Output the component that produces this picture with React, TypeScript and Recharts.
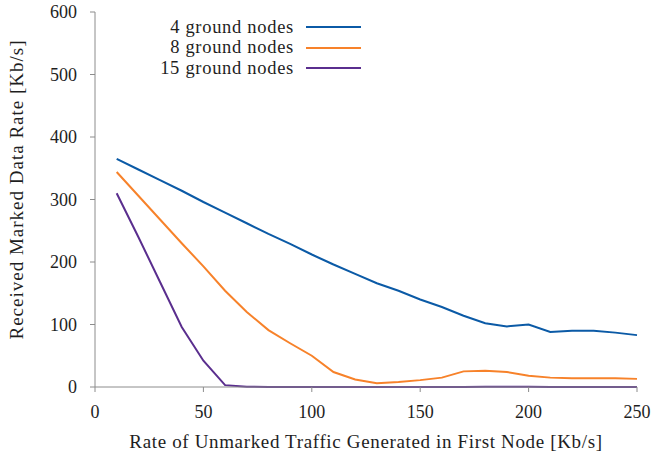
import React from 'react';
import { LineChart, Line, XAxis, YAxis, Label } from 'recharts';

const rates = [10, 20, 30, 40, 50, 60, 70, 80, 90, 100, 110, 120, 130, 140, 150, 160, 170, 180, 190, 200, 210, 220, 230, 240, 250];
const nodes4 = [365, 348, 331, 314, 296, 279, 262, 245, 229, 212, 196, 181, 166, 154, 140, 128, 114, 102, 97, 100, 88, 90, 90, 87, 83];
const nodes8 = [344, 306, 268, 230, 193, 154, 120, 91, 70, 50, 24, 12, 6, 8, 11, 15, 25, 26, 24, 18, 15, 14, 14, 14, 13];
const nodes15 = [310, 240, 168, 96, 42, 3, 0.5, 0, 0, 0, 0, 0, 0, 0, 0, 0, 0, 0.5, 0.5, 0.5, 0, 0, 0, 0, 0];
const xTicks = [0, 50, 100, 150, 200, 250];
const yTicks = [0, 100, 200, 300, 400, 500, 600];

const SERIES = [
  { key: 'n4', name: '4 ground nodes', color: '#0b5aa6' },
  { key: 'n8', name: '8 ground nodes', color: '#f7822a' },
  { key: 'n15', name: '15 ground nodes', color: '#5a2e8e' },
];

const data = rates.map((r, i) => ({ rate: r, n4: nodes4[i], n8: nodes8[i], n15: nodes15[i] }));

const FONT = '"Liberation Serif", serif';
const AXIS = '#8c8c8c';
const INK = '#1e1e1e';

// legend drawn as an overlay in the upper-left part of the plot
const LegendBox = () => (
  <div style={{ position: 'absolute', left: 60, top: 17, width: 301, fontFamily: FONT, fontSize: 18.5, letterSpacing: 0.7, color: INK }}>
    {SERIES.map((s) => (
      <div key={s.key} style={{ display: 'flex', alignItems: 'center', justifyContent: 'flex-end', height: 20.5 }}>
        <span>{s.name}</span>
        <span style={{ display: 'inline-block', width: 55, height: 2, background: s.color, marginLeft: 12 }} />
      </div>
    ))}
  </div>
);

export default function App() {
  return (
    <div style={{ position: 'absolute', left: 0, top: 0, width: 651, height: 455, background: '#fff' }}>
      <LineChart width={651} height={455} data={data} margin={{ top: 12, right: 14, left: 35, bottom: 38 }}>
        <XAxis
          dataKey="rate"
          type="number"
          domain={[0, 250]}
          ticks={xTicks}
          stroke={AXIS}
          tickSize={5}
          tickMargin={13}
          height={30}
          tick={{ fill: INK, fontSize: 18, fontFamily: FONT }}
        >
          <Label
            value="Rate of Unmarked Traffic Generated in First Node [Kb/s]"
            position="bottom"
            offset={18}
            style={{ fill: INK, fontSize: 19, letterSpacing: 0.65, fontFamily: FONT }}
          />
        </XAxis>
        <YAxis
          type="number"
          domain={[0, 600]}
          ticks={yTicks}
          stroke={AXIS}
          tickSize={5}
          tickMargin={13}
          width={60}
          tick={{ fill: INK, fontSize: 18, fontFamily: FONT }}
        >
          <Label
            value="Received Marked Data Rate [Kb/s]"
            angle={-90}
            position="left"
            offset={19}
            dy={-10}
            style={{ fill: INK, fontSize: 19, letterSpacing: 1.0, fontFamily: FONT, textAnchor: 'middle' }}
          />
        </YAxis>
        {SERIES.map((s) => (
          <Line
            key={s.key}
            type="linear"
            dataKey={s.key}
            name={s.name}
            stroke={s.color}
            strokeWidth={2}
            dot={false}
            isAnimationActive={false}
          />
        ))}
      </LineChart>
      <LegendBox />
    </div>
  );
}
